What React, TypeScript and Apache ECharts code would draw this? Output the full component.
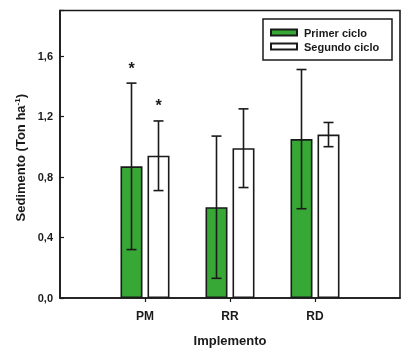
import React, { useEffect, useRef } from "react";
import * as echarts from "echarts";

const categories = ["", "PM", "RR", "RD", ""];
const seriesNames = ["Primer ciclo", "Segundo ciclo"];
const primerMean = [null, 0.87, 0.6, 1.05, null];
const primerLow = [null, 0.32, 0.13, 0.59, null];
const primerHigh = [null, 1.42, 1.07, 1.51, null];
const segundoMean = [null, 0.94, 0.99, 1.08, null];
const segundoLow = [null, 0.71, 0.73, 1.0, null];
const segundoHigh = [null, 1.17, 1.25, 1.16, null];
const primerSig = ["", "*", "", "", ""];
const segundoSig = ["", "*", "", "", ""];
const yTicks = [0, 0.4, 0.8, 1.2, 1.6];

const GREEN = "#37a836";
const INK = "#1a1a1a";
const FONT = "Liberation Sans, Arial, sans-serif";
const BAR_W = 22;
const BAR_GAP = 5;

function errorSeries(name: string, low: any[], high: any[], sig: string[], offset: number) {
  const data = categories
    .map((c, i) => (low[i] == null ? null : [i, low[i], high[i]]))
    .filter((d) => d !== null);
  return {
    type: "custom",
    name: name + " err",
    data,
    z: 10,
    silent: true,
    renderItem: (params: any, api: any) => {
      const idx = api.value(0);
      const lo = api.coord([idx, api.value(1)]);
      const hi = api.coord([idx, api.value(2)]);
      const x = lo[0] + offset;
      const cap = 5;
      const st = { stroke: INK, lineWidth: 1.6 };
      const children: any[] = [
        { type: "line", shape: { x1: x, y1: lo[1], x2: x, y2: hi[1] }, style: st },
        { type: "line", shape: { x1: x - cap, y1: lo[1], x2: x + cap, y2: lo[1] }, style: st },
        { type: "line", shape: { x1: x - cap, y1: hi[1], x2: x + cap, y2: hi[1] }, style: st },
      ];
      const s = sig[idx];
      if (s) {
        children.push({
          type: "text",
          style: {
            x: x,
            y: hi[1] - 15,
            text: s,
            fill: INK,
            font: "bold 16px " + FONT,
            align: "center",
            verticalAlign: "middle",
          },
        });
      }
      return { type: "group", children };
    },
  };
}

export default function App() {
  const ref = useRef<HTMLDivElement>(null);
  useEffect(() => {
    if (!ref.current) return;
    const chart = echarts.init(ref.current, null, { renderer: "svg" });
    const off = (BAR_W + BAR_GAP) / 2;
    chart.setOption({
      animation: false,
      textStyle: { fontFamily: FONT },
      grid: {
        left: 60,
        right: 12,
        top: 10.5,
        bottom: 52.5,
        show: true,
        borderColor: INK,
        borderWidth: 1.6,
        backgroundColor: "transparent",
      },
      graphic: [
        {
          type: "rect",
          shape: { x: 263, y: 19, width: 129, height: 41 },
          style: { fill: "#ffffff", stroke: INK, lineWidth: 1.5 },
          z: 1,
        },
      ],
      legend: {
        orient: "vertical",
        left: 270,
        top: 25.5,
        data: seriesNames,
        padding: 0,
        itemGap: 0,
        itemWidth: 26,
        itemHeight: 6,
        icon: "rect",
        z: 5,
        textStyle: {
          fontFamily: FONT,
          fontSize: 11,
          fontWeight: "bold",
          color: INK,
          lineHeight: 14,
          padding: [0, 0, 0, 2],
        },
      },
      xAxis: {
        type: "category",
        data: categories,
        boundaryGap: false,
        name: "Implemento",
        nameLocation: "middle",
        nameGap: 36,
        nameTextStyle: { fontFamily: FONT, fontSize: 13, fontWeight: "bold", color: INK },
        axisLine: { lineStyle: { color: INK, width: 1.6 } },
        axisTick: {
          interval: (i: number, v: string) => v !== "",
          inside: false,
          length: 4,
          lineStyle: { color: INK, width: 1.2 },
        },
        axisLabel: {
          interval: 0,
          margin: 12,
          fontFamily: FONT,
          fontSize: 12,
          fontWeight: "bold",
          color: INK,
        },
        splitLine: { show: false },
      },
      yAxis: {
        type: "value",
        min: 0,
        max: 1.9,
        interval: 0.4,
        name: "Sedimento (Ton ha{sup|-1})",
        nameLocation: "middle",
        nameGap: 33,
        nameRotate: 90,
        nameTextStyle: {
          fontFamily: FONT,
          fontSize: 13,
          fontWeight: "bold",
          color: INK,
          padding: [0, 7, 0, 0],
          rich: {
            sup: { fontFamily: FONT, fontSize: 8, fontWeight: "bold", color: INK, verticalAlign: "top", padding: [0, 0, 6, 0] },
          },
        },
        axisLine: { show: true, lineStyle: { color: INK, width: 1.6 } },
        axisTick: { show: true, inside: true, length: 4, lineStyle: { color: INK, width: 1.2 } },
        axisLabel: {
          margin: 7,
          fontFamily: FONT,
          fontSize: 11,
          fontWeight: "bold",
          color: INK,
          formatter: (v: number) =>
            yTicks.some((t) => Math.abs(t - v) < 1e-6) ? v.toFixed(1).replace(".", ",") : "",
        },
        splitLine: { show: false },
      },
      series: [
        {
          type: "bar",
          name: seriesNames[0],
          data: primerMean,
          barWidth: BAR_W,
          barGap: (BAR_GAP / BAR_W) * 100 + "%",
          itemStyle: { color: GREEN, borderColor: INK, borderWidth: 1.6 },
        },
        {
          type: "bar",
          name: seriesNames[1],
          data: segundoMean,
          barWidth: BAR_W,
          itemStyle: { color: "#ffffff", borderColor: INK, borderWidth: 1.6 },
        },
        errorSeries(seriesNames[0], primerLow, primerHigh, primerSig, -off),
        errorSeries(seriesNames[1], segundoLow, segundoHigh, segundoSig, off),
      ],
    });
    return () => chart.dispose();
  }, []);
  return (
    <div
      ref={ref}
      style={{ position: "fixed", left: 0, top: 0, width: 412, height: 352 }}
    />
  );
}
